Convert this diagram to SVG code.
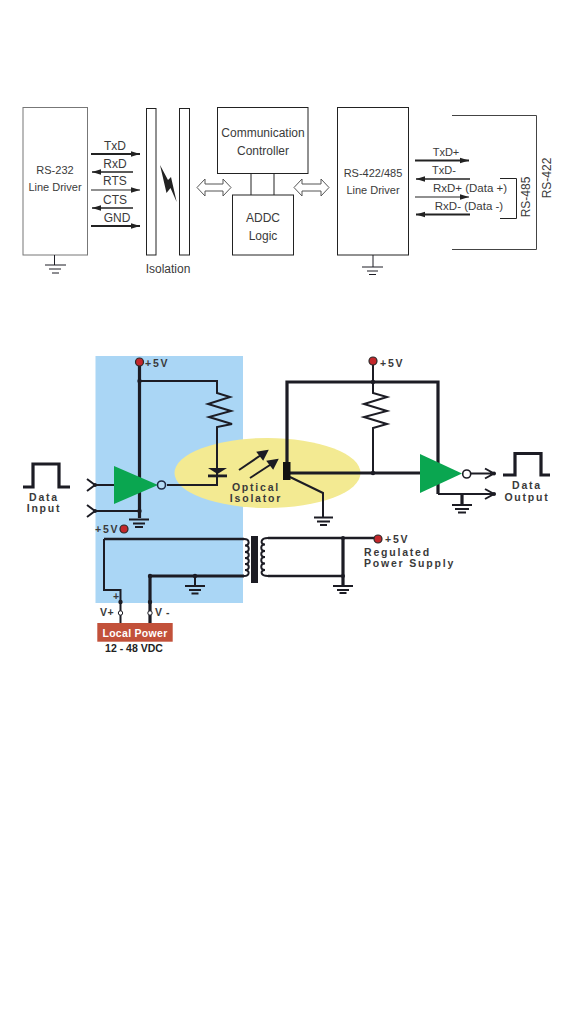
<svg xmlns="http://www.w3.org/2000/svg" width="567" height="1021" viewBox="0 0 567 1021">
<defs>
<style>
text{font-family:"Liberation Sans",Arial,sans-serif}
.t{font-size:12px;fill:#3a3a3a;text-anchor:middle}
.m{font-size:11px;fill:#3a3a3a;text-anchor:middle}
.s{font-size:11.500px;fill:#3a3a3a;text-anchor:middle}
.b{fill:#fff;stroke:#222;stroke-width:1}
.w{fill:none;stroke:#1c1c24;stroke-width:2}
.k{fill:none;stroke:#1c1c24;stroke-width:3.200}
.l{font-size:10.500px;font-weight:bold;fill:#3a3a3a;letter-spacing:1.800px}
.dot{fill:#1c1c24}
.red{fill:#c3272b;stroke:#2a2a2a;stroke-width:1.200}
.tri{fill:#0aa650}
.inv{fill:#b5dbf5;stroke:#1f2a44;stroke-width:1.600}
.gnd{stroke:#1c1c24;fill:none}
</style>
<marker id="ah" markerUnits="userSpaceOnUse" markerWidth="10" markerHeight="8" refX="9" refY="4" orient="auto-start-reverse"><path d="M0 1.200L9 4L0 6.800z" fill="#222"/></marker>
</defs>
<rect width="567" height="1021" fill="#fff"/>

<g id="rs232"><rect class="b" x="23" y="107.500" width="64.500" height="147.500" style="stroke:#777"/><text class="m" x="55" y="174">RS-232</text><text class="m" x="55" y="191">Line Driver</text></g>
<g id="gnd-rs232" class="gnd" stroke-width="1"><path d="M54.500 255V265M45 265H66M49 269H61M52 273H59"/></g>
<g id="iso-left"><rect class="b" x="146.500" y="108.500" width="9.500" height="146.500"/></g>
<g id="iso-right"><rect class="b" x="179.500" y="108.500" width="10" height="146.500"/></g>
<g id="lightning"><path d="M160 165L168 180L171 177L176.700 202L170.500 188L166.500 193z" fill="#222"/></g>
<text class="t" x="168" y="273">Isolation</text>
<g id="controller"><rect class="b" x="217.500" y="107.500" width="90.500" height="66"/><text class="t" x="263" y="137">Communication</text><text class="t" x="263" y="155">Controller</text></g>
<g id="addc"><rect class="b" x="232.500" y="195" width="61" height="60"/><text class="t" x="263" y="222">ADDC</text><text class="t" x="263" y="240">Logic</text></g>
<g id="rs422"><rect class="b" x="337.500" y="107.500" width="71" height="147.500"/><text class="m" x="373" y="177">RS-422/485</text><text class="m" x="373" y="194">Line Driver</text></g>
<g id="gnd-rs422" class="gnd" stroke-width="1"><path d="M373 255V267M362 267H383M367 271H378M369 274.500H376"/></g>

<g id="labels-top">
<text class="t" x="115" y="150">TxD</text><text class="t" x="115" y="168">RxD</text><text class="t" x="115" y="185">RTS</text><text class="t" x="115" y="204">CTS</text><text class="t" x="117" y="222">GND</text>
<text class="m" x="446" y="156">TxD+</text><text class="m" x="444" y="174">TxD-</text><text class="s" x="470" y="192">RxD+ (Data +)</text><text class="s" x="469" y="210">RxD- (Data -)</text>
<text class="t" transform="translate(530 197) rotate(-90)">RS-485</text>
<text class="t" transform="translate(551 178) rotate(-90)">RS-422</text>
</g>

<g id="connectors-top" fill="none" stroke="#222">
<path d="M91 154H140" stroke-width="2" marker-end="url(#ah)"/>
<path d="M133 172H92" stroke-width="1.300" marker-end="url(#ah)"/>
<path d="M91 190H140" stroke-width="1.100" marker-end="url(#ah)"/>
<path d="M133 208H92" stroke-width="1.500" marker-end="url(#ah)"/>
<path d="M91 226H140" stroke-width="2" marker-end="url(#ah)"/>
<path d="M251 173.500V195M274 173.500V195" stroke-width="1"/>
<path d="M415 160.500H469" stroke-width="2" marker-end="url(#ah)"/>
<path d="M470 179H416" stroke-width="1.300" marker-end="url(#ah)"/>
<path d="M415 197H469" stroke-width="1.100" marker-end="url(#ah)"/>
<path d="M470 214.500H416" stroke-width="2" marker-end="url(#ah)"/>
<path d="M500 178.500H516.500V218.500H500" stroke-width="1"/>
<path d="M452 115.500H536.500V249.500H452" stroke-width="1" stroke="#444"/>
<path d="M197 187.500L205 179V184H223V179L231 187.500L223 196V191H205V196z" stroke="#555" stroke-width="1" fill="#fff"/>
<path d="M294 187.500L302 179V184H321V179L329 187.500L321 196V191H302V196z" stroke="#555" stroke-width="1" fill="#fff"/>
</g>

<g id="blue-area"><rect x="95.500" y="356" width="147.500" height="247" fill="#aad6f5"/></g>
<g id="isolator-ellipse"><ellipse cx="267.500" cy="473" rx="93" ry="35" fill="#f3ea92"/></g>

<g id="connectors-bottom">
<path class="k" d="M139.500 362V518"/>
<path class="w" d="M139.500 381H217V393L230 397L208 404L231 411L209 417L232 424L217 427V485H167"/>
<path class="w" d="M95 485H114M87 479L95 485L87 491M95 511H139.500M87 505L95 511L87 517"/>
<path class="k" d="M287 462V382H438V494"/>
<path class="w" d="M373 361V382"/>
<path class="w" d="M373 382V393L387 397L364 404L387 411L364 417L387 424L373 428V473"/>
<path class="k" d="M287 473H420"/>
<path class="w" d="M290 477L323 493V517"/>
<path class="w" d="M438 494H494M485 489L494 494L485 499M471 473.500H494M485 468.500L494 473.500L485 478.500"/>
<path class="k" d="M462 494V505"/>
<path class="k" stroke-linejoin="miter" d="M23 487H33V464H59V487H70"/>
<path class="k" d="M503 475H515V453.500H541V475H550"/>
<path class="w" d="M104 539V590H120.500V623"/>
<path class="w" style="stroke-width:2.400" d="M104 539H244"/>
<path class="k" d="M150 576H244M150 576V623"/>
<path class="w" d="M195 576V586"/>
<path class="w" d="M244 539C250 539 250 545.500 245 545.500C250 545.500 250 552 245 552C250 552 250 558 245 558C250 558 250 564 245 564C250 564 250 570 245 570C250 570 250 576 244 576"/>
<path class="w" d="M268 538C260 538 260 544.500 265 544.500C260 544.500 260 551 265 551C260 551 260 557 265 557C260 557 260 563.500 265 563.500C260 563.500 260 570 265 570C260 570 260 576 268 576"/>
<path class="w" style="stroke-width:2.400" d="M268 538H375M268 576H343"/>
<path class="k" d="M343 538V586"/>
</g>

<g id="gnd-symbols">
<path class="gnd" stroke-width="2" d="M129 519.500H149M133 523.500H145M135 527H143"/>
<path class="gnd" stroke-width="2" d="M314 517.500H333M317 521.500H330M320 525H327"/>
<path class="gnd" stroke-width="2" d="M452 505H472M455 509H469M458 512.500H466"/>
<path class="gnd" stroke-width="2" d="M185 586H205M189 590H201M191.500 593.500H198.500"/>
<path class="gnd" stroke-width="2" d="M333 586H353M337 590H349M339.500 593H346.500"/>
</g>

<g id="driver"><path class="tri" d="M114 466V504L158 485z"/><circle class="inv" cx="161.500" cy="485" r="4"/></g>
<g id="receiver"><path class="tri" d="M420 454V493L462 473.500z"/><circle cx="466.700" cy="474" r="4" fill="#fff" stroke="#1c1c24" stroke-width="1.600"/></g>
<g id="diode"><path d="M208 468H227L217.500 474z" fill="#1c1c24"/><rect x="208" y="474.500" width="19" height="2.800" fill="#1c1c24"/></g>
<g id="photo-arrows" fill="none" stroke="#1c1c24" stroke-width="2">
<path d="M239 470L264 453"/><path d="M250 478L273 463"/>
<path d="M267 451L258 452.500L263 459z" fill="#1c1c24"/><path d="M277 460L268 461.500L273 468z" fill="#1c1c24"/>
</g>
<g id="phototransistor"><rect x="283" y="462" width="7.500" height="18" fill="#111"/></g>
<g id="core"><rect x="251" y="536" width="7" height="47" fill="#1c1c24"/></g>

<g id="dots">
<circle class="dot" cx="139.500" cy="381" r="2.200"/><circle class="dot" cx="139.500" cy="511" r="2.200"/>
<circle class="dot" cx="95" cy="485" r="2"/><circle class="dot" cx="95" cy="511" r="2"/>
<circle class="dot" cx="373" cy="382" r="2.200"/><circle class="dot" cx="373" cy="473" r="2.200"/>
<circle class="dot" cx="494" cy="473.500" r="2"/><circle class="dot" cx="494" cy="494" r="2"/>
<circle class="dot" cx="120.500" cy="602" r="2.200"/><circle class="dot" cx="150" cy="602" r="2.200"/>
<circle class="dot" cx="150" cy="576" r="2.200"/><circle class="dot" cx="195" cy="576" r="2.200"/>
<circle class="dot" cx="343" cy="538" r="2"/><circle class="dot" cx="343" cy="576" r="2"/>
<circle cx="120.500" cy="613" r="2.200" fill="#fff" stroke="#1c1c24"/><circle cx="150" cy="613" r="2.200" fill="#fff" stroke="#1c1c24"/>
</g>
<g id="supplies">
<circle class="red" cx="139.500" cy="362" r="4"/><text class="l" x="145" y="366.500">+5V</text>
<circle class="red" cx="124" cy="529" r="4"/><text class="l" x="95" y="533">+5V</text>
<circle class="red" cx="373" cy="361" r="4"/><text class="l" x="380" y="367">+5V</text>
<circle class="red" cx="378" cy="539" r="4"/><text class="l" x="385" y="542.500">+5V</text>
</g>
<g id="labels-bottom">
<text class="l" x="44" y="501" text-anchor="middle">Data</text><text class="l" x="44" y="512" text-anchor="middle">Input</text>
<text class="l" x="527" y="489" text-anchor="middle">Data</text><text class="l" x="527" y="501" text-anchor="middle">Output</text>
<text class="l" x="256" y="491" text-anchor="middle">Optical</text><text class="l" x="256" y="502" text-anchor="middle">Isolator</text>
<text class="l" x="364" y="556">Regulated</text><text class="l" x="364" y="567">Power Supply</text>
<text class="l" x="113" y="600" style="letter-spacing:0">+</text>
<text class="l" x="100" y="616" style="letter-spacing:0.500px">V+</text><text class="l" x="155" y="616" style="letter-spacing:0.500px">V -</text>
</g>
<g id="local-power"><rect x="97.300" y="623" width="75.400" height="18.700" fill="#c2513a"/><text x="135" y="636.500" font-size="10.500" font-weight="bold" fill="#fff" text-anchor="middle" letter-spacing="0.300">Local Power</text>
<text x="134" y="652" font-size="10.500" font-weight="bold" fill="#222" text-anchor="middle">12 - 48 VDC</text></g>
</svg>
